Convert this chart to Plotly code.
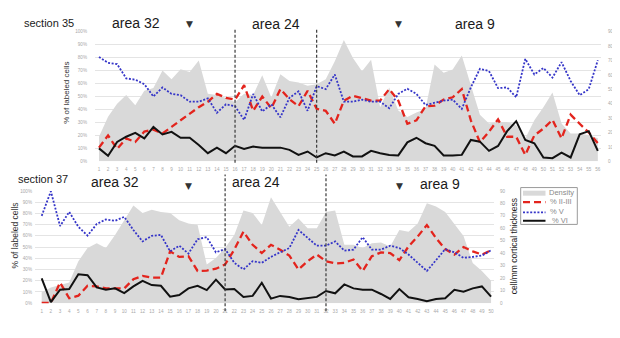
import plotly.graph_objects as go

# ---------------- data ----------------
pos35 = list(range(1, 57))
density35 = [17, 31, 40, 46, 39, 49, 51, 63, 57, 64, 62, 70, 47, 46, 44, 41, 47, 46, 59.7, 44.4,
             60.4, 55.8, 54.7, 52.4, 53.5, 57, 69.5, 84.3, 71.8, 62.6, 70.6, 37.6, 51.3, 35.3, 30.8, 34,
             36.4, 67.2, 61.5, 63.8, 73.4, 53.5, 32.3, 26.2, 27.3, 27.3, 25, 15.9, 28.5, 37.6, 47.8, 26.2,
             19.4, 19.4, 18.2, 16]
red35 = [10.6, 20, 9.6, 17.7, 15, 23, 24.5, 21.5, 26.6, 31.6, 36.7, 41.8, 46, 52, 49, 47.6, 58.7, 39, 50, 41,
         55.7, 48, 42.5, 54.4, 40.5, 39, 29, 46.8, 50.6, 48.6, 46.8, 46.8, 55.7, 46.8, 29, 31.6, 42.5, 43,
         47.6, 49.4, 55.7, 31.6, 14.7, 22.8, 32.4, 19, 19, 5, 20, 25.3, 32, 17.7, 36, 29, 22.3, 14]
blue35 = [80.5, 76, 75, 64, 63, 59.5, 50, 57, 52, 51, 46, 46, 48.6, 37.5, 44, 42.5, 32, 52, 38.5, 44,
          34, 49, 54, 39, 58, 55.7, 67, 46, 46, 47.6, 46, 46, 41, 52, 56, 52, 43.5, 45, 46.8, 47.6,
          40.5, 57, 71.4, 69.6, 56.5, 57, 49.4, 79, 67, 72, 64.6, 76.5, 62, 51, 55.7, 78]
black35 = [10, 4.3, 15, 19, 22, 17.7, 26.6, 20.8, 22.8, 18.2, 18.2, 12.7, 6.3, 10.6, 6.3, 12, 9.6, 11.4, 10.6, 10.6,
           10.6, 8.9, 5, 7.6, 3, 6.3, 4.6, 7.6, 3.8, 3.8, 8.1, 6.3, 5, 4.6, 14.7, 18.2, 14, 12, 4.6, 4.6,
           5, 16.5, 15.2, 8.1, 11.9, 23.3, 31, 16.5, 14, 3, 2.5, 6.8, 3, 20.8, 23.3, 8.1]

pos37 = list(range(1, 51))
density37 = [8.7, 12.6, 14.5, 16.6, 33.7, 44.2, 48.1, 44.2, 54.7, 66.5, 78.4, 72.3, 75, 73.1, 72.3, 66.5, 63.9,
             62.6, 31, 36.3, 44.2, 54.7, 74.4, 72.3, 62.6, 84.9, 73.1, 61.3, 67.9, 60, 60, 73.1, 74.4, 46.8,
             46.8, 44.2, 48.1, 48.7, 45.5, 58.6, 57.3, 63.9, 80.2, 77.6, 73.1, 63.9, 53.9, 32.3, 25.8, 17.9]
red37 = [0.3, 0.3, 18.4, 4.4, 6.7, 15.5, 14.9, 13.2, 13.2, 13.2, 21.3, 24.3, 22.8, 22.8, 46.2, 41.2, 41.8, 28.7,
         29, 30.7, 34.5, 47.7, 63.7, 52, 44.7, 52, 47.7, 42.4, 30.1, 37.4, 43.3, 37.4, 35.4, 36, 38.9, 28.7,
         41.8, 45.3, 44.7, 38.3, 50.6, 59.4, 69.6, 57.9, 48.2, 43.3, 50, 46.2, 43.3, 47.1]
blue37 = [77.8, 99.7, 68.7, 81.3, 68, 60.2, 70.5, 74.6, 73.4, 76.9, 65.2, 55, 60, 60.8, 46.2, 51.2, 44.2, 57,
          58.8, 45.3, 48.2, 36, 30.1, 37.4, 36, 41.2, 45.3, 49.1, 65.2, 57.9, 51.2, 51.2, 55, 46.8, 47.7, 58.8,
          47.7, 47.7, 51.2, 49.1, 43.3, 36, 28.7, 38.3, 48.2, 45.3, 40.4, 41.2, 42.4, 47.1]
black37 = [22.2, 0.9, 12, 12.6, 25.7, 24.9, 14, 12, 13.2, 9, 14.9, 19.9, 16.1, 15.5, 5.8, 7.3, 13.2, 15.5,
           11.7, 21, 12.3, 12.6, 5.6, 6.5, 18.2, 4.1, 6.5, 5.6, 3.5, 4.7, 5.6, 10.9, 8.8, 16.7, 13.2, 12,
           12, 8.2, 3.8, 12.6, 5.3, 3.8, 1.8, 3.8, 4.4, 12, 10.2, 13.2, 14.9, 5.8]

boundaries35 = [16, 25]
boundaries37 = [21, 32]
triangles35 = [11, 34]
triangles37 = [17, 40]
series_names = ["Density", "% II-III", "% V", "% VI"]

# ---------------- styles ----------------
# the page body has an 8px default margin, so the figure is drawn 8px in from the window edge
OFF = 8
W, H = 620 - OFF, 338 - OFF
FONT = "Arial, Liberation Sans, sans-serif"
GREY_FILL = "#d9d9d9"
RED = "#e3241d"
BLUE = "#3535c8"
BLACK = "#111111"
TICKC = "#a8a8a8"
GRIDC = "#e4e4e4"


def X(px):
    return (px - OFF) / W


def Y(py):
    return 1 - (py - OFF) / H


fig = go.Figure()


def add_panel(pos, dens, red, blue, black, xa, yd, yp):
    # density on base (right) axis, percentages on overlaying left axis
    fig.add_trace(go.Scatter(x=pos, y=dens, mode="lines", fill="tozeroy", fillcolor=GREY_FILL,
                             line=dict(width=0, color=GREY_FILL), xaxis=xa, yaxis=yd,
                             name=series_names[0], showlegend=False, hoverinfo="skip"))
    fig.add_trace(go.Scatter(x=pos, y=red, mode="lines", line=dict(color=RED, width=2.3, dash="7px,4px"),
                             xaxis=xa, yaxis=yp, name=series_names[1], showlegend=False))
    fig.add_trace(go.Scatter(x=pos, y=blue, mode="lines", line=dict(color=BLUE, width=1.8, dash="2px,1.6px"),
                             xaxis=xa, yaxis=yp, name=series_names[2], showlegend=False))
    fig.add_trace(go.Scatter(x=pos, y=black, mode="lines", line=dict(color=BLACK, width=2),
                             xaxis=xa, yaxis=yp, name=series_names[3], showlegend=False))


add_panel(pos35, density35, red35, blue35, black35, "x", "y", "y2")
add_panel(pos37, density37, red37, blue37, black37, "x2", "y3", "y4")

tickfont = dict(size=4.6, color=TICKC, family=FONT)

top_x = [X(95), X(601)]
top_y = [Y(161.7), Y(30)]
bot_x = [X(35), X(494)]
bot_y = [Y(305.7), Y(191.7)]

fig.update_layout(
    width=W, height=H, autosize=False,
    margin=dict(l=0, r=0, t=0, b=0),
    paper_bgcolor="white", plot_bgcolor="white",
    font=dict(family=FONT),
    showlegend=False,
    xaxis=dict(domain=top_x, range=[0.56, 56.35], tickmode="linear", tick0=1, dtick=1,
               showgrid=False, zeroline=False, showline=False, ticks="", tickfont=tickfont,
               ticklabelstandoff=4, anchor="y"),
    yaxis=dict(domain=top_y, range=[0, 90], side="right", tickmode="linear", tick0=0, dtick=10,
               showgrid=False, zeroline=False, showline=False, ticks="", tickfont=tickfont,
               ticklabelstandoff=6, anchor="x"),
    yaxis2=dict(range=[0, 100], overlaying="y", side="left", tickmode="linear", tick0=0, dtick=10,
                ticksuffix="%", showgrid=True, gridcolor=GRIDC, gridwidth=1, zeroline=False,
                showline=False, ticks="", tickfont=tickfont, ticklabelstandoff=7, anchor="x"),
    xaxis2=dict(domain=bot_x, range=[0.27, 50.32], tickmode="linear", tick0=1, dtick=1,
                showgrid=False, zeroline=False, showline=False, ticks="", tickfont=tickfont,
                ticklabelstandoff=4, anchor="y3"),
    yaxis3=dict(domain=bot_y, range=[0, 90], side="right", tickmode="linear", tick0=0, dtick=10,
                showgrid=False, zeroline=False, showline=False, ticks="", tickfont=tickfont,
                ticklabelstandoff=5, anchor="x2"),
    yaxis4=dict(range=[0, 100], overlaying="y3", side="left", tickmode="linear", tick0=0, dtick=10,
                ticksuffix="%", showgrid=True, gridcolor=GRIDC, gridwidth=1, zeroline=False,
                showline=False, ticks="", tickfont=tickfont, ticklabelstandoff=2, anchor="x2"),
)

shapes = []
annotations = []

for b in boundaries35:
    shapes.append(dict(type="line", xref="x", yref="paper", x0=b, x1=b, y0=Y(163), y1=Y(27),
                       line=dict(color="#3a3a3a", width=1.2, dash="3px,2px")))
for b in boundaries37:
    shapes.append(dict(type="line", xref="x2", yref="paper", x0=b, x1=b, y0=Y(314), y1=Y(175),
                       line=dict(color="#3a3a3a", width=1.2, dash="3px,2px")))

for t in triangles35:
    annotations.append(dict(x=t, y=Y(22), xref="x", yref="paper", text="▼", showarrow=False,
                            font=dict(size=9, color="#333", family="DejaVu Sans"),
                            xanchor="center", yanchor="middle"))
for t in triangles37:
    annotations.append(dict(x=t, y=Y(186.5), xref="x2", yref="paper", text="▼", showarrow=False,
                            font=dict(size=9, color="#333", family="DejaVu Sans"),
                            xanchor="center", yanchor="middle"))


def label(text, px, py, size, color="#1a1a1a", angle=0):
    annotations.append(dict(x=X(px), y=Y(py), xref="paper", yref="paper", text=text, showarrow=False,
                            font=dict(size=size, color=color, family=FONT), textangle=angle,
                            xanchor="center", yanchor="middle"))


label("section 35", 48.7, 21, 11)
label("area 32", 136, 21, 14)
label("area 24", 276, 22, 14)
label("area 9", 474.7, 22, 14)
label("section 37", 42.8, 180, 11)
label("area 32", 115.3, 183, 14)
label("area 24", 255.5, 183, 14)
label("area 9", 440, 184.5, 14)

label("% of labeled cells", 67, 92, 8, color="#333", angle=-90)
label("% of labeled cells", 15, 237, 8.5, color="#333", angle=-90)
label("cell/mm cortical thickness", 513.5, 247.5, 8.5, color="#222", angle=-90)

# manual legend
shapes.append(dict(type="rect", xref="paper", yref="paper", x0=X(520.7), x1=X(577.3), y0=Y(225.7), y1=Y(188.3),
                   line=dict(color="#9a9a9a", width=1), fillcolor="white"))
leg_styles = [
    dict(color=GREY_FILL, width=5),
    dict(color=RED, width=2.3, dash="7px,4px"),
    dict(color=BLUE, width=1.8, dash="2px,1.6px"),
    dict(color=BLACK, width=2),
]
leg_y = [194, 203, 213.5, 222]
leg_tx = [546.5, 547.5, 547.5, 550]
for name, st, ly, tx in zip(series_names, leg_styles, leg_y, leg_tx):
    shapes.append(dict(type="line", xref="paper", yref="paper", x0=X(523), x1=X(545.5), y0=Y(ly), y1=Y(ly),
                       line=st))
    annotations.append(dict(x=X(tx), y=Y(ly - 0.5), xref="paper", yref="paper", text=name, showarrow=False,
                            font=dict(size=7.5, color="#8a8a8a", family=FONT), xanchor="left",
                            yanchor="middle"))

fig.update_layout(shapes=shapes, annotations=annotations)

fig.write_html("out.html")
